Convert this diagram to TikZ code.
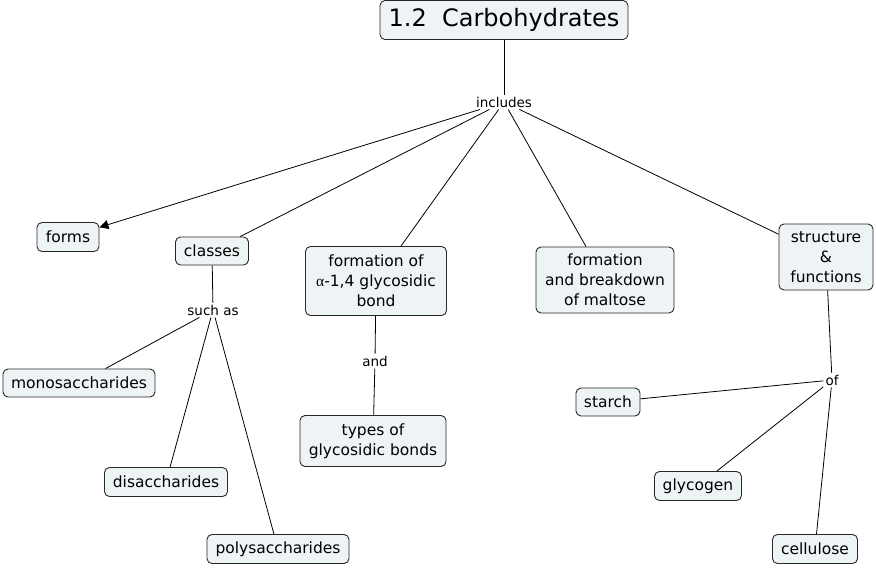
\documentclass[tikz,border=0pt]{standalone}
\usepackage{fontspec}
\setmainfont{DejaVu Sans}
\newfontfamily\alphafont{Liberation Serif}
\usetikzlibrary{arrows.meta}
\definecolor{boxfill}{RGB}{238,243,245}
\definecolor{boxdraw}{RGB}{40,40,40}
\tikzset{
  concept/.style={draw=boxdraw, fill=boxfill, rounded corners=5pt, line width=0.9pt,
    inner xsep=4pt, inner ysep=3pt, align=center, font=\fontsize{15.5}{20}\selectfont, text=black},
  linkword/.style={inner sep=2pt, font=\fontsize{13.5}{16}\selectfont, fill=white},
  conn/.style={draw=black, line width=0.8pt},
}
\begin{document}
\begin{tikzpicture}[x=1pt, y=-1pt]
\useasboundingbox (0,0) rectangle (876,568);
\node[concept, font=\fontsize{24}{28}\selectfont, minimum width=248pt, minimum height=39pt] (title) at (504,20) {1.2\ \ Carbohydrates};
\node[linkword] (inc) at (504,102) {includes};
\node[concept, minimum width=62pt, minimum height=29pt] (forms) at (68,237) {forms};
\node[concept, minimum width=73pt, minimum height=28pt] (classes) at (212,251) {classes};
\node[concept, minimum width=141pt, minimum height=69pt] (form) at (376,281) {formation of\\{\alphafont α}-1,4 glycosidic\\bond};
\node[concept, minimum width=138pt, minimum height=66pt] (malt) at (605,280) {formation\\and breakdown\\of maltose};
\node[concept, minimum width=94pt, minimum height=66pt] (struct) at (826,257) {structure\\\&\\functions};
\node[linkword] (such) at (213,310) {such as};
\node[concept, minimum width=152pt, minimum height=28pt] (mono) at (79,383) {monosaccharides};
\node[concept, minimum width=123pt, minimum height=29pt] (di) at (166,482) {disaccharides};
\node[concept, minimum width=142pt, minimum height=29pt] (poly) at (278,549) {polysaccharides};
\node[linkword] (and) at (375,361) {and};
\node[concept, minimum width=146pt, minimum height=51pt] (types) at (373,441) {types of\\glycosidic bonds};
\node[linkword] (of) at (832,380) {of};
\node[concept, minimum width=64pt, minimum height=28pt] (starch) at (608,402) {starch};
\node[concept, minimum width=87pt, minimum height=29pt] (glyc) at (698,486) {glycogen};
\node[concept, minimum width=85pt, minimum height=29pt] (cell) at (815,549) {cellulose};

\draw[conn] (title) -- (inc);
\draw[conn, -{Triangle[length=9pt, width=9pt]}] (inc) -- (forms);
\draw[conn] (inc) -- (classes);
\draw[conn] (inc) -- (form);
\draw[conn] (inc) -- (malt);
\draw[conn] (inc) -- (struct);
\draw[conn] (classes) -- (such);
\draw[conn] (such) -- (mono);
\draw[conn] (such) -- (di);
\draw[conn] (such) -- (poly);
\draw[conn] (form) -- (and);
\draw[conn] (and) -- (types);
\draw[conn] (struct) -- (of);
\draw[conn] (of) -- (starch);
\draw[conn] (of) -- (glyc);
\draw[conn] (of) -- (cell);
\end{tikzpicture}
\end{document}
